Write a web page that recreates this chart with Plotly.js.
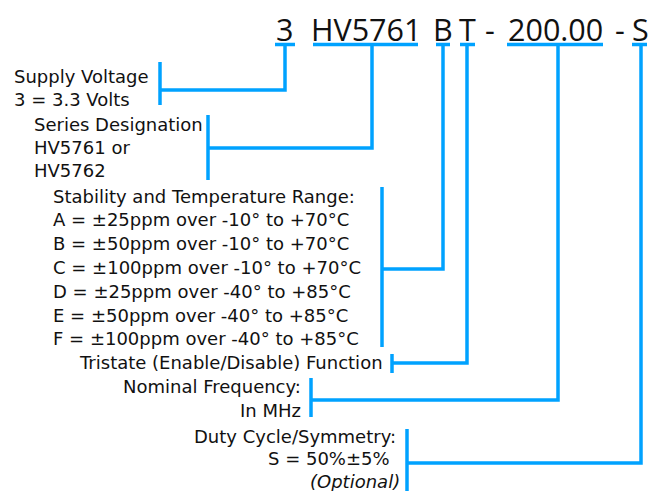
<!DOCTYPE html>
<html>
<head>
<meta charset="utf-8">
<script src="https://cdn.plot.ly/plotly-3.0.1.min.js"></script>
<style>html,body{margin:0;padding:0;background:#fff;}#chart{width:652px;height:491px;}</style>
</head>
<body>
<div id="chart"></div>
<script>
// ---- content ----
const partCodes = ["3", "HV5761", "B", "T", "-", "200.00", "-", "S"];
const supplyText = ["Supply Voltage", "3 = 3.3 Volts"];
const seriesText = ["Series Designation", "HV5761 or", "HV5762"];
const stabilityText = [
  "Stability and Temperature Range:",
  "A = ±25ppm over -10° to +70°C",
  "B = ±50ppm over -10° to +70°C",
  "C = ±100ppm over -10° to +70°C",
  "D = ±25ppm over -40° to +85°C",
  "E = ±50ppm over -40° to +85°C",
  "F = ±100ppm over -40° to +85°C"
];
const tristateText = ["Tristate (Enable/Disable) Function"];
const frequencyText = ["Nominal Frequency:", "In MHz"];
const dutyText = ["Duty Cycle/Symmetry:", "S = 50%±5%", "<i>(Optional)</i>"];
const descriptions = [supplyText, seriesText, stabilityText, tristateText, frequencyText, dutyText];

// ---- geometry (pixel space of the figure) ----
const codeX = [284, 366, 443, 467, 490, 555, 620, 640];
const codeY = 29;
const underlines = [[275, 295], [313, 418], [436, 450], [460, 475], null, [507, 603], null, [632, 647]];
const underlineY = 44.5;
const fieldGeom = [
  {cx: 285, hy: 90,  bx: 160, b: [62, 105],  align: "left",  tx: [13, 13],  base: 82,  step: 23},
  {cx: 372, hy: 148, bx: 208, b: [115, 180], align: "left",  tx: [33, 33, 33],  base: 130, step: 23},
  {cx: 443, hy: 269, bx: 382, b: [187, 347], align: "left",  tx: [52, 52, 52, 52, 52, 52, 52],  base: 202, step: 23.8},
  {cx: 467, hy: 363, bx: 392, b: [354, 373], align: "left",  tx: [78],  base: 368, step: 23},
  {cx: 558, hy: 400, bx: 311, b: [378, 417], align: "right", tx: [302, 302], base: 392, step: 24},
  {cx: 641, hy: 463, bx: 407, b: [429, 491], align: "right", tx: [397, 391, 401], base: 442, step: 22.5}
];

const blue = "#00a2ff";
const fontFam = "'DejaVu Sans', sans-serif";
const codeFam = "'Open Sans', sans-serif";
const textSize = 18;

const traces = [];
const ux = [], uy = [];
underlines.forEach(u => { if (u) { ux.push(u[0], u[1], null); uy.push(underlineY, underlineY, null); } });
traces.push({x: ux, y: uy, mode: "lines", line: {color: blue, width: 3.5}, hoverinfo: "skip", showlegend: false});
const lx = [], ly = [];
fieldGeom.forEach(g => {
  lx.push(g.cx, g.cx, g.bx, null); ly.push(underlineY, g.hy, g.hy, null);
  lx.push(g.bx, g.bx, null); ly.push(g.b[0], g.b[1], null);
});
traces.push({x: lx, y: ly, mode: "lines", line: {color: blue, width: 3.5}, hoverinfo: "skip", showlegend: false});

const annotations = [];
partCodes.forEach((c, i) => {
  annotations.push({x: codeX[i], y: codeY, xref: "x", yref: "y", text: c, showarrow: false,
    xanchor: "center", yanchor: "middle", font: {family: codeFam, size: 30.5, color: "#111", weight: 500}});
});
descriptions.forEach((lines, f) => {
  const g = fieldGeom[f];
  lines.forEach((t, k) => {
    annotations.push({x: g.tx[k], y: g.base + k * g.step - textSize * 0.33, xref: "x", yref: "y", text: t,
      showarrow: false, xanchor: g.align, yanchor: "middle", borderpad: 0,
      font: {family: fontFam, size: textSize, color: "#111"}});
  });
});

const layout = {
  width: 652, height: 491,
  margin: {l: 0, r: 0, t: 0, b: 0},
  paper_bgcolor: "#fff", plot_bgcolor: "#fff",
  xaxis: {range: [0, 652], visible: false, fixedrange: true},
  yaxis: {range: [491, 0], visible: false, fixedrange: true},
  annotations: annotations,
  showlegend: false
};
Plotly.newPlot("chart", traces, layout, {displayModeBar: false, staticPlot: true});
</script>
</body>
</html>
